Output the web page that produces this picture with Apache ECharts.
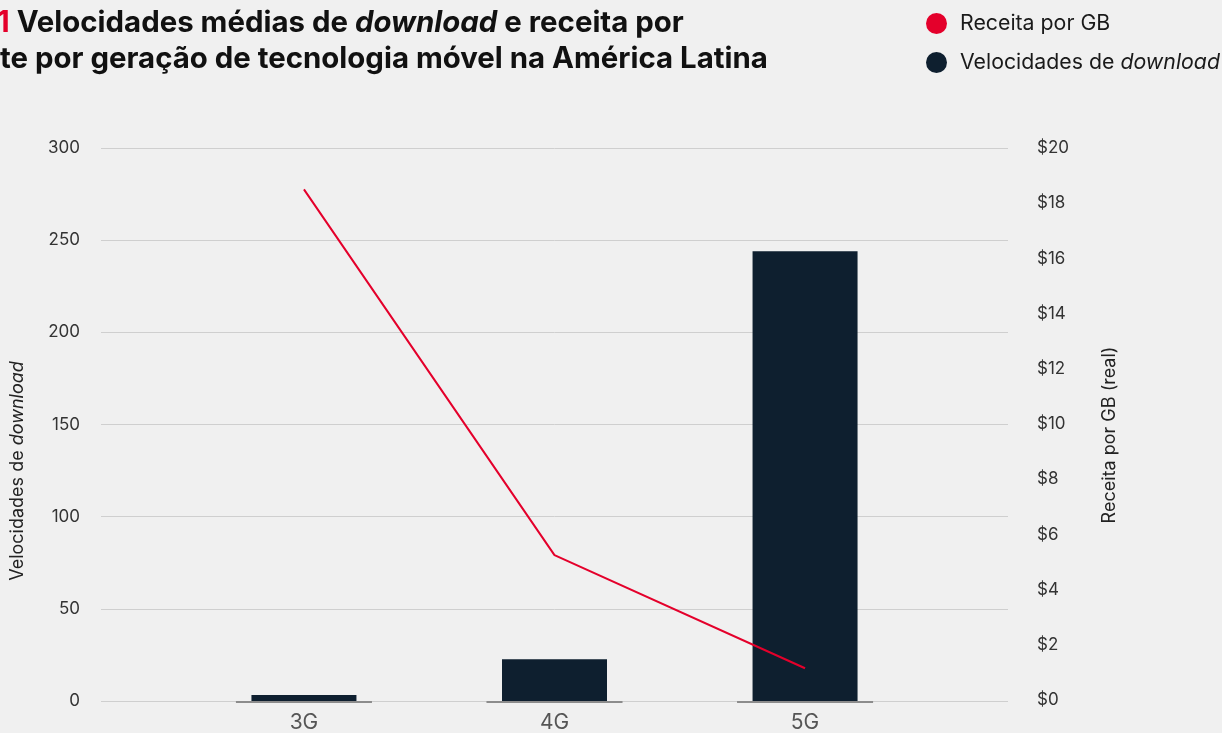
<!DOCTYPE html>
<html>
<head>
<meta charset="utf-8">
<script src="https://cdn.jsdelivr.net/npm/echarts@6/dist/echarts.min.js"></script>
<style>
  html, body { margin: 0; padding: 0; background: #f0f0f0; }
  #chart { width: 1222px; height: 733px; }
</style>
</head>
<body>
<div id="chart"></div>
<script>
// Mobile technology generations
const categories = ['3G', '4G', '5G'];
// Average download speed (Mbps)
const downloadSpeed = [3.3, 22.7, 244];
// Revenue per GB (real, USD)
const revenuePerGB = [18.5, 5.25, 1.15];
// Tick settings
const leftTicks = { min: 0, max: 300, interval: 50 };
const rightTicks = { min: 0, max: 20, interval: 2 };

const NAVY = '#0e1f2f';
const RED = '#e4002b';
const FONT = 'Inter';
const TITLE_SIZE = 29.4;
const LEGEND_SIZE = 21.3;

const xMin = -0.81, xMax = 2.81;
const idx = categories.map((c, i) => i);

const chart = echarts.init(document.getElementById('chart'));

const option = {
  backgroundColor: '#f0f0f0',
  animation: false,
  textStyle: { fontFamily: FONT },
  legend: {
    orient: 'vertical',
    left: 926,
    top: 13,
    padding: 0,
    itemWidth: 21,
    itemHeight: 21,
    itemGap: 18,
    icon: 'circle',
    data: ['Receita por GB', 'Velocidades de download'],
    formatter: name => name === 'Velocidades de download' ? 'Velocidades de {i|download}' : name,
    textStyle: {
      fontFamily: FONT,
      fontSize: LEGEND_SIZE,
      color: '#1a1a1a',
      padding: [0, 0, 0, 8],
      rich: { i: { fontStyle: 'italic', fontSize: LEGEND_SIZE, fontFamily: FONT, color: '#1a1a1a' } }
    }
  },
  graphic: [
    {
      type: 'text', left: -3, top: 9,
      style: {
        text: '{r|1} Velocidades médias de {i|download} e receita por',
        font: `bold ${TITLE_SIZE}px ${FONT}`, fill: '#111',
        rich: {
          r: { fill: RED, font: `bold ${TITLE_SIZE}px ${FONT}` },
          i: { font: `italic bold ${TITLE_SIZE}px ${FONT}`, fill: '#111' }
        }
      }
    },
    {
      type: 'text', left: 0, top: 45,
      style: { text: 'te por geração de tecnologia móvel na América Latina', font: `bold ${TITLE_SIZE}px ${FONT}`, fill: '#111' }
    },
    {
      type: 'text', x: 18, y: 471, rotation: Math.PI / 2,
      style: {
        text: 'Velocidades de {i|download}', font: `18px ${FONT}`, fill: '#222',
        align: 'center', verticalAlign: 'middle',
        rich: { i: { font: `italic 18px ${FONT}`, fill: '#222' } }
      }
    },
    {
      type: 'text', x: 1110, y: 435, rotation: Math.PI / 2,
      style: {
        text: 'Receita por GB (real)', font: `18px ${FONT}`, fill: '#222',
        align: 'center', verticalAlign: 'middle'
      }
    }
  ],
  grid: [
    { left: 101, right: 214, top: 148, bottom: 27 },
    { left: 101, right: 214, top: 148, bottom: 33 }
  ],
  xAxis: [
    {
      type: 'value', gridIndex: 0, min: xMin, max: xMax,
      splitLine: { show: false }, axisLine: { show: false }, axisTick: { show: false },
      axisLabel: {
        customValues: idx,
        formatter: v => categories[Math.round(v)] || '',
        fontSize: 21, color: '#555', margin: 11, fontFamily: FONT
      }
    },
    {
      type: 'value', gridIndex: 1, min: xMin, max: xMax, show: false
    }
  ],
  yAxis: [
    {
      type: 'value', gridIndex: 0, position: 'left',
      min: leftTicks.min, max: leftTicks.max, interval: leftTicks.interval,
      axisLine: { show: false }, axisTick: { show: false },
      splitLine: { lineStyle: { color: '#cfcfcf', width: 1 } },
      axisLabel: { fontSize: 17, color: '#333', margin: 21, fontFamily: FONT }
    },
    {
      type: 'value', gridIndex: 1, position: 'right',
      min: rightTicks.min, max: rightTicks.max, interval: rightTicks.interval,
      axisLine: { show: false }, axisTick: { show: false }, splitLine: { show: false },
      axisLabel: { fontSize: 17, color: '#333', margin: 29, fontFamily: FONT, formatter: v => '$' + v }
    }
  ],
  series: [
    {
      name: 'Velocidades de download',
      type: 'bar', xAxisIndex: 0, yAxisIndex: 0,
      barWidth: 105,
      itemStyle: { color: NAVY },
      data: idx.map(i => [i, downloadSpeed[i]]),
      z: 2
    },
    {
      // short baseline strokes under each category
      name: 'base',
      type: 'custom', xAxisIndex: 0, yAxisIndex: 0,
      silent: true,
      data: idx.map(i => [i, 0]),
      renderItem: (params, api) => {
        const c = api.coord([api.value(0), 0]);
        const w = api.size([1, 0])[0] * 0.543;
        return {
          type: 'line',
          shape: { x1: c[0] - w / 2, y1: c[1] + 1, x2: c[0] + w / 2, y2: c[1] + 1 },
          style: { stroke: '#8c8c8c', lineWidth: 2 }
        };
      },
      z: 3
    },
    {
      name: 'Receita por GB',
      type: 'line', xAxisIndex: 1, yAxisIndex: 1,
      symbol: 'none',
      lineStyle: { color: RED, width: 2 },
      itemStyle: { color: RED },
      data: idx.map(i => [i, revenuePerGB[i]]),
      z: 4
    }
  ]
};

chart.setOption(option);
</script>
</body>
</html>
